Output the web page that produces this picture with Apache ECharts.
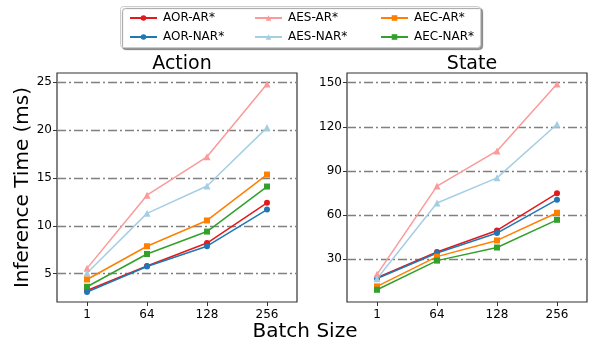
<!DOCTYPE html>
<html>
<head>
<meta charset="utf-8">
<script src="https://cdn.jsdelivr.net/npm/echarts@6/dist/echarts.min.js"></script>
<style>
  html, body { margin: 0; padding: 0; background: #fff; }
  #chart { width: 591px; height: 341px; }
</style>
</head>
<body>
<div id="chart"></div>
<script>
// batch sizes on x, inference time (ms) on y
const batchSizes = ['1', '64', '128', '256'];
const seriesNames = ['AOR-AR*', 'AOR-NAR*', 'AES-AR*', 'AES-NAR*', 'AEC-AR*', 'AEC-NAR*'];

// Action panel
const actionAorAr = [3.25, 5.8, 8.2, 12.4];
const actionAorNar = [3.1, 5.75, 7.87, 11.7];
const actionAesAr = [5.56, 13.2, 17.2, 24.8];
const actionAesNar = [5.07, 11.3, 14.16, 20.25];
const actionAecAr = [4.4, 7.87, 10.56, 15.35];
const actionAecNar = [3.64, 7.06, 9.4, 14.1];

// State panel
const stateAorAr = [17.5, 35.0, 49.6, 74.8];
const stateAorNar = [17.0, 34.3, 47.8, 70.5];
const stateAesAr = [19.8, 79.7, 103.6, 149.0];
const stateAesNar = [16.8, 68.2, 85.3, 121.7];
const stateAecAr = [11.6, 31.8, 42.8, 61.6];
const stateAecNar = [9.3, 29.1, 38.0, 56.8];

const actionTicks = [5, 10, 15, 20, 25];
const stateTicks = [30, 60, 90, 120, 150];

const colors = ['#e31a1c', '#1f78b4', '#fb9a99', '#a6cee3', '#ff7f00', '#33a02c'];
const symbols = ['circle', 'circle', 'triangle', 'triangle', 'rect', 'rect'];
const symbolSizes = [6, 6, 7, 7, 6, 6];

const actionData = [actionAorAr, actionAorNar, actionAesAr, actionAesNar, actionAecAr, actionAecNar];
const stateData = [stateAorAr, stateAorNar, stateAesAr, stateAesNar, stateAecAr, stateAecNar];

const font = 'DejaVu Sans';
const gridLine = { color: '#808080', width: 1.3, type: [9, 3, 2, 3] };

function makeY(idx, min, max, ticks) {
    return {
        type: 'value', gridIndex: idx, min: min, max: max,
        axisLine: { show: false },
        axisTick: { show: true, length: 4, customValues: ticks, lineStyle: { color: '#333' } },
        axisLabel: { customValues: ticks, color: '#000', fontSize: 12, fontFamily: font, margin: 5 },
        splitLine: { show: true, lineStyle: gridLine }
    };
}

function makeX(idx) {
    return {
        type: 'category', gridIndex: idx, data: batchSizes, boundaryGap: true,
        axisLine: { show: false },
        axisTick: { show: true, alignWithLabel: true, length: 4, lineStyle: { color: '#333' } },
        axisLabel: { color: '#000', fontSize: 12, fontFamily: font, margin: 7 },
        splitLine: { show: false }
    };
}

const series = [];
[actionData, stateData].forEach((panel, p) => {
    panel.forEach((vals, i) => {
        series.push({
            name: seriesNames[i], type: 'line', xAxisIndex: p, yAxisIndex: p,
            data: vals, color: colors[i], symbol: symbols[i], symbolSize: symbolSizes[i],
            showSymbol: true, lineStyle: { width: 1.5 }, animation: false
        });
    });
});

function legendCol(left, names) {
    return {
        orient: 'vertical', left: left, top: 7, itemGap: 7,
        itemWidth: 27, itemHeight: 7, data: names,
        textStyle: { fontSize: 12, fontFamily: font, color: '#000', padding: [0, 0, 0, 1] }
    };
}

const chart = echarts.init(document.getElementById('chart'));
chart.setOption({
    backgroundColor: '#fff',
    animation: false,
    title: [
        { text: 'Action', left: 177, top: 50, textAlign: 'center', textStyle: { fontSize: 19, fontWeight: 'normal', fontFamily: font, color: '#000' } },
        { text: 'State', left: 467, top: 50, textAlign: 'center', textStyle: { fontSize: 19, fontWeight: 'normal', fontFamily: font, color: '#000' } },
        { text: 'Batch Size', left: 300, top: 317, textAlign: 'center', textStyle: { fontSize: 20, fontWeight: 'normal', fontFamily: font, color: '#000' } }
    ],
    graphic: [{
        type: 'rect', left: 120, top: 6, z: -1,
        shape: { width: 360, height: 41, r: 3 },
        style: { fill: '#fff', stroke: '#ccc', lineWidth: 1, shadowColor: 'rgba(0,0,0,0.4)', shadowOffsetX: 2, shadowOffsetY: 2, shadowBlur: 1 }
    }],
    legend: [
        legendCol(124, ['AOR-AR*', 'AOR-NAR*']),
        legendCol(249, ['AES-AR*', 'AES-NAR*']),
        legendCol(375, ['AEC-AR*', 'AEC-NAR*'])
    ],
    grid: [
        { left: 57, top: 73, width: 240, height: 229, show: true, borderColor: '#333', borderWidth: 1.2, backgroundColor: 'transparent' },
        { left: 347, top: 73, width: 240, height: 229, show: true, borderColor: '#333', borderWidth: 1.2, backgroundColor: 'transparent' }
    ],
    xAxis: [makeX(0), makeX(1)],
    yAxis: [
        Object.assign(makeY(0, 2.05, 25.95, actionTicks), {
            name: 'Inference Time (ms)', nameLocation: 'middle', nameGap: 23,
            nameTextStyle: { fontSize: 20, fontFamily: font, color: '#000' }
        }),
        makeY(1, 1, 156.5, stateTicks)
    ],
    series: series
});
</script>
</body>
</html>
